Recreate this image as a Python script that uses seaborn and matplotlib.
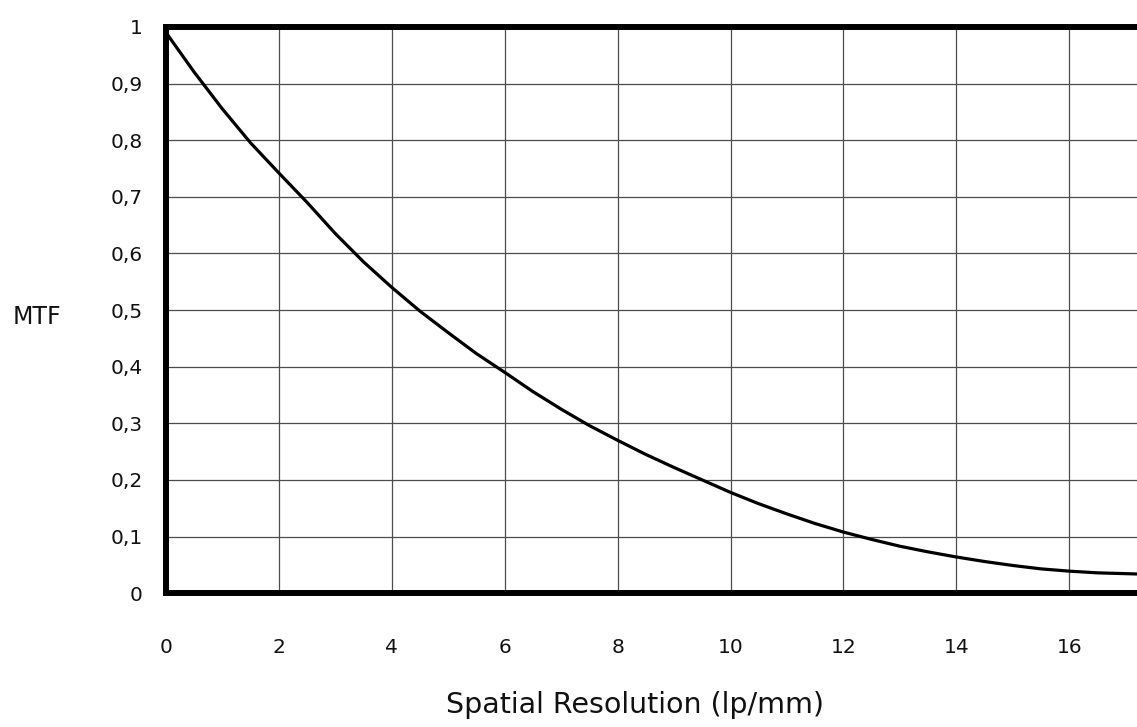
import numpy as np
import pandas as pd
import matplotlib
matplotlib.use('Agg')
import matplotlib.pyplot as plt
import seaborn as sns

# MTF curve
freq = [0, 0.5, 1, 1.5, 2, 2.5, 3, 3.5, 4, 4.5, 5, 5.5, 6, 6.5, 7, 7.5, 8, 8.5,
        9, 9.5, 10, 10.5, 11, 11.5, 12, 12.5, 13, 13.5, 14, 14.5, 15, 15.5, 16,
        16.5, 17.2]
mtf = [0.99, 0.92, 0.855, 0.795, 0.742, 0.69, 0.635, 0.585, 0.54, 0.498, 0.46,
       0.423, 0.39, 0.356, 0.325, 0.296, 0.27, 0.245, 0.222, 0.2, 0.178, 0.158,
       0.14, 0.123, 0.108, 0.095, 0.083, 0.073, 0.064, 0.056, 0.049, 0.043,
       0.039, 0.036, 0.034]

xticks = [0, 2, 4, 6, 8, 10, 12, 14, 16]
yticks = [0, 0.1, 0.2, 0.3, 0.4, 0.5, 0.6, 0.7, 0.8, 0.9, 1]
ylabels = ['0', '0,1', '0,2', '0,3', '0,4', '0,5', '0,6', '0,7', '0,8', '0,9', '1']

df = pd.DataFrame({'freq': freq, 'mtf': mtf})

sns.set_style('white')
plt.rcParams['font.family'] = ['DejaVu Sans']

fig = plt.figure(figsize=(11.37, 7.27), dpi=100)
ax = fig.add_axes([0.146, 0.184, 0.854, 0.779])

sns.lineplot(data=df, x='freq', y='mtf', ax=ax, color='black', linewidth=2.3)

ax.set_xlim(0, 17.2)
ax.set_ylim(0, 1)
ax.set_xticks(xticks)
ax.set_xticklabels([str(t) for t in xticks])
ax.set_yticks(yticks)
ax.set_yticklabels(ylabels)
ax.grid(True, color='#4d4d4d', linewidth=0.9)
ax.set_axisbelow(True)

for s in ['left', 'top', 'bottom']:
    ax.spines[s].set_linewidth(4.3)
    ax.spines[s].set_color('black')
ax.spines['right'].set_visible(False)

ax.tick_params(axis='both', length=0, labelsize=14.5, colors='#111111')
ax.tick_params(axis='x', pad=32)
ax.tick_params(axis='y', pad=17)

ax.set_xlabel('Spatial Resolution (lp/mm)', fontsize=20.5, labelpad=25, color='#111111')
ax.xaxis.label.set_x(0.483)
ax.set_ylabel('MTF', fontsize=17, rotation=0, color='#111111', ha='center', va='center')
ax.yaxis.set_label_coords(-0.133, 0.488)

fig.savefig('out.png', dpi=100)
